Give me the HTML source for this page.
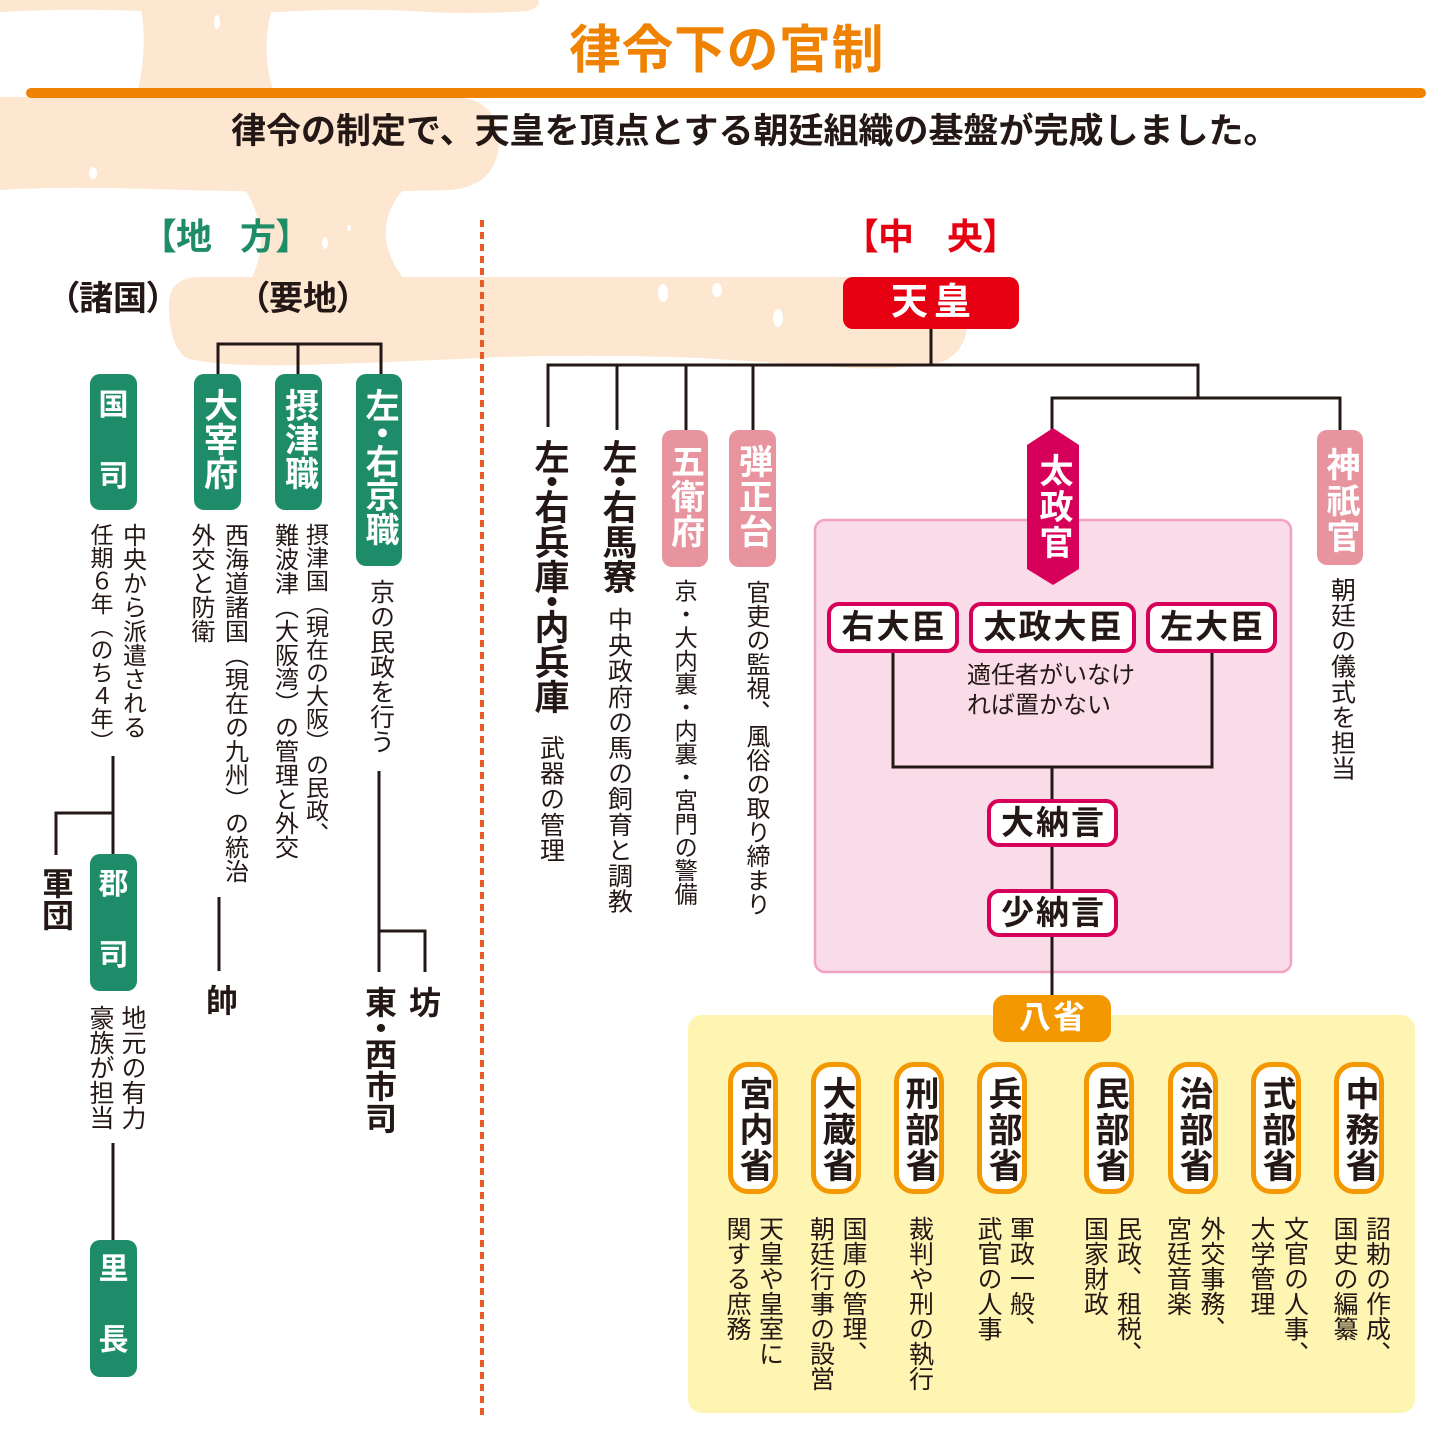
<!DOCTYPE html>
<html><head><meta charset="utf-8">
<style>
body{margin:0}
#c{position:relative;width:1453px;height:1454px;overflow:hidden;background:#fff;font-family:"Liberation Sans","Noto Sans CJK JP",sans-serif;color:#231815}
.v{position:absolute;writing-mode:vertical-rl;line-height:1;white-space:nowrap}
.h{position:absolute;line-height:1;white-space:nowrap}
.b{font-weight:700}
.w{color:#fff}
.box{position:absolute;box-sizing:border-box}
.g{background:#1e8c69;border-radius:10px}
.p{background:#e8949f;border-radius:10px}
.cr{background:#fff;border:4px solid #d6005a;border-radius:12px;text-align:center;font-weight:700;font-size:33px;letter-spacing:2px;line-height:42px;text-indent:2px}
.mo{background:#fff;border:5px solid #f39800;border-radius:20px;width:50px;height:132px;top:1062px}
.mt{position:absolute;writing-mode:vertical-rl;line-height:1;white-space:nowrap;font-weight:700;font-size:34px;letter-spacing:2px;top:1076px}
.md{position:absolute;writing-mode:vertical-rl;line-height:1;white-space:nowrap;font-size:25px;top:1216px}
.d6{margin:-6px 0}
.d10{margin:-10px 0}
</style></head><body><div id="c">
<svg width="1453" height="1454" style="position:absolute;left:0;top:0">
<g fill="#fde7d1">
<path d="M0,0 H538 Q542,6 528,11 Q470,15 410,11 Q340,8 280,12 Q200,15 140,11 Q70,8 0,12 Z"/>
<path d="M141,8 Q148,50 137,94 L274,94 Q260,50 272,8 Z"/>
<path d="M0,97 H455 Q498,99 499,142 Q497,186 450,190 Q300,194 150,189 Q60,186 0,190 Z"/>
<path d="M243,186 C262,215 268,250 250,280 L405,280 C380,250 378,215 407,186 Z"/>
<path d="M169,305 Q169,277 200,277 L945,277 Q968,280 968,318 Q967,352 942,362 Q900,370 850,368 Q780,363 700,358 Q600,354 500,357 Q400,362 300,365 Q220,367 186,358 Q169,345 169,305 Z"/>
</g>
<g fill="#fff">
<ellipse cx="663" cy="293" rx="5" ry="9"/>
<ellipse cx="717" cy="290" rx="5" ry="7"/>
<ellipse cx="778" cy="318" rx="5" ry="9"/>
<ellipse cx="325" cy="243" rx="3" ry="6"/>
<ellipse cx="93" cy="173" rx="4" ry="6"/>
<ellipse cx="217" cy="22" rx="3" ry="7"/>
<ellipse cx="349" cy="228" rx="2" ry="3"/>
</g>
<rect x="26" y="88" width="1400" height="10" rx="5" fill="#ef8200"/>
<line x1="482" y1="220" x2="482" y2="1418" stroke="#ea5a24" stroke-width="4" stroke-dasharray="7 5"/>
<rect x="815" y="520" width="476" height="452" rx="10" fill="#fadbe8" stroke="#f2a2c3" stroke-width="2.5"/>
<rect x="688" y="1015" width="727" height="398" rx="14" fill="#fff5b2"/>
<g stroke="#231815" stroke-width="3" fill="none">
<line x1="931" y1="329" x2="931" y2="365"/>
<line x1="546.5" y1="365" x2="1199.5" y2="365"/>
<line x1="548" y1="365" x2="548" y2="427"/>
<line x1="617" y1="365" x2="617" y2="430"/>
<line x1="686" y1="365" x2="686" y2="430"/>
<line x1="753" y1="365" x2="753" y2="430"/>
<line x1="1198" y1="365" x2="1198" y2="398"/>
<line x1="1050.5" y1="398" x2="1341.5" y2="398"/>
<line x1="1052" y1="398" x2="1052" y2="430"/>
<line x1="1340" y1="398" x2="1340" y2="430"/>
<line x1="216.5" y1="344" x2="382.5" y2="344"/>
<line x1="218" y1="344" x2="218" y2="374"/>
<line x1="298" y1="344" x2="298" y2="374"/>
<line x1="381" y1="344" x2="381" y2="374"/>
<line x1="113" y1="756" x2="113" y2="854"/>
<polyline points="113,813 56,813 56,855"/>
<line x1="219" y1="897" x2="219" y2="971"/>
<line x1="379" y1="771" x2="379" y2="972"/>
<polyline points="379,931 425,931 425,972"/>
<line x1="113" y1="1143" x2="113" y2="1240"/>
<polyline points="893,652 893,767 1212,767 1212,652"/>
<line x1="1052" y1="767" x2="1052" y2="799"/>
<line x1="1052" y1="847" x2="1052" y2="889"/>
<line x1="1052" y1="937" x2="1052" y2="995"/>
</g>
<polygon points="1053,428 1079,445 1079,569 1053,585 1027,569 1027,445" fill="#d6005a"/>
</svg>

<div class="h b" style="left:0;width:1453px;text-align:center;top:25px;font-size:52px;letter-spacing:0.5px;color:#ef8200">律令下の官制</div>
<div class="h b" style="left:231px;top:114px;font-size:35px">律令の制定で、天皇を頂点とする朝廷組織の基盤が完成しました。</div>

<div class="h b" style="left:158px;top:219px;font-size:36px;color:#1e8c69;font-feature-settings:'palt'">【地</div>
<div class="h b" style="left:240px;top:219px;font-size:36px;color:#1e8c69;font-feature-settings:'palt'">方】</div>
<div class="h b" style="left:860px;top:219px;font-size:36px;color:#e60012;font-feature-settings:'palt'">【中</div>
<div class="h b" style="left:947px;top:219px;font-size:36px;color:#e60012;font-feature-settings:'palt'">央】</div>
<div class="h b" style="left:62px;top:282px;font-size:34px;font-feature-settings:'palt'">（諸国）</div>
<div class="h b" style="left:252px;top:282px;font-size:34px;font-feature-settings:'palt'">（要地）</div>

<div class="box g" style="left:90px;top:374px;width:47px;height:136px"></div>
<div class="h b w" style="left:90px;width:47px;text-align:center;top:391px;font-size:30px">国</div>
<div class="h b w" style="left:90px;width:47px;text-align:center;top:462px;font-size:30px">司</div>
<div class="box g" style="left:194px;top:374px;width:47px;height:136px"></div>
<div class="v b w" style="left:200.5px;top:388px;font-size:34px">大宰府</div>
<div class="box g" style="left:275px;top:374px;width:47px;height:136px"></div>
<div class="v b w" style="left:281.5px;top:388px;font-size:34px">摂津職</div>
<div class="box g" style="left:356px;top:374px;width:46px;height:192px"></div>
<div class="v b w" style="left:362px;top:388px;font-size:34px">左<span class="d6">・</span>右京職</div>
<div class="box g" style="left:90px;top:854px;width:47px;height:137px"></div>
<div class="h b w" style="left:90px;width:47px;text-align:center;top:870px;font-size:30px">郡</div>
<div class="h b w" style="left:90px;width:47px;text-align:center;top:941px;font-size:30px">司</div>
<div class="box g" style="left:90px;top:1240px;width:47px;height:137px"></div>
<div class="h b w" style="left:90px;width:47px;text-align:center;top:1255px;font-size:30px">里</div>
<div class="h b w" style="left:90px;width:47px;text-align:center;top:1326px;font-size:30px">長</div>

<div class="v" style="left:119.5px;top:523px;font-size:24px">中央から派遣される</div>
<div class="v" style="left:88px;top:523px;font-size:23px">任期６年（のち４年）</div>
<div class="v" style="left:119px;top:1005px;font-size:25px">地元の有力</div>
<div class="v" style="left:87px;top:1005px;font-size:25px">豪族が担当</div>
<div class="v" style="left:221.5px;top:523px;font-size:24px">西海道諸国（現在の九州）の統治</div>
<div class="v" style="left:188px;top:523px;font-size:24px">外交と防衛</div>
<div class="v" style="left:303.5px;top:523px;font-size:23px">摂津国（現在の大阪）の民政、</div>
<div class="v" style="left:271.5px;top:523px;font-size:24px">難波津（大阪湾）の管理と外交</div>
<div class="v" style="left:367.5px;top:579px;font-size:25px">京の民政を行う</div>

<div class="v b" style="left:40px;top:867px;font-size:32px">軍団</div>
<div class="v b" style="left:204px;top:984px;font-size:32px">帥</div>
<div class="v b" style="left:363px;top:986px;font-size:32px">東<span class="d6">・</span>西市司</div>
<div class="v b" style="left:407px;top:986px;font-size:32px">坊</div>

<div class="h b w" style="left:843px;top:277px;width:176px;height:52px;background:#e60012;border-radius:10px"></div>
<div class="h b w" style="left:843px;width:176px;text-align:center;top:283px;font-size:37px;letter-spacing:6px;text-indent:6px">天皇</div>

<div class="v b" style="left:531.5px;top:439px;font-size:35px">左<span class="d10">・</span>右兵庫<span class="d10">・</span>内兵庫</div>
<div class="v" style="left:537.5px;top:735px;font-size:25px;letter-spacing:0.6px">武器の管理</div>
<div class="v b" style="left:599.5px;top:439px;font-size:35px">左<span class="d10">・</span>右馬寮</div>
<div class="v" style="left:605.5px;top:607px;font-size:25px;letter-spacing:0.6px">中央政府の馬の飼育と調教</div>

<div class="box p" style="left:662px;top:430px;width:46px;height:137px"></div>
<div class="v b w" style="left:667.5px;top:444px;font-size:34px;letter-spacing:1px">五衛府</div>
<div class="v" style="left:671.8px;top:579px;font-size:23.3px">京・大内裏・内裏・宮門の警備</div>
<div class="box p" style="left:729px;top:430px;width:47px;height:137px"></div>
<div class="v b w" style="left:735.5px;top:444px;font-size:34px;letter-spacing:1px">弾正台</div>
<div class="v" style="left:743px;top:580px;font-size:24px">官吏の監視、風俗の取り締まり</div>

<div class="box p" style="left:1317px;top:430px;width:46px;height:135px"></div>
<div class="v b w" style="left:1323px;top:447px;font-size:34px;letter-spacing:2px">神祇官</div>
<div class="v" style="left:1328.5px;top:577px;font-size:25px;letter-spacing:0.5px">朝廷の儀式を担当</div>

<div class="v b w" style="left:1036px;top:453px;font-size:34px;letter-spacing:2px">太政官</div>

<div class="box cr" style="left:827px;top:602px;width:132px;height:51px">右大臣</div>
<div class="box cr" style="left:969px;top:602px;width:167px;height:51px">太政大臣</div>
<div class="box cr" style="left:1146px;top:602px;width:131px;height:51px">左大臣</div>
<div class="h" style="left:967px;top:664px;font-size:24px">適任者がいなけ</div>
<div class="h" style="left:967px;top:694px;font-size:24px">れば置かない</div>
<div class="box cr" style="left:987px;top:799px;width:131px;height:48px;line-height:40px">大納言</div>
<div class="box cr" style="left:987px;top:889px;width:131px;height:48px;line-height:40px">少納言</div>

<div class="box" style="left:993px;top:995px;width:118px;height:47px;background:#f39800;border-radius:12px"></div>
<div class="h b w" style="left:993px;width:118px;text-align:center;top:1001px;font-size:32px;letter-spacing:2px;text-indent:2px">八省</div>

<div class="box mo" style="left:728px"></div><div class="mt" style="left:736px">宮内省</div>
<div class="box mo" style="left:811px"></div><div class="mt" style="left:819px">大蔵省</div>
<div class="box mo" style="left:894px"></div><div class="mt" style="left:902px">刑部省</div>
<div class="box mo" style="left:977px"></div><div class="mt" style="left:985px">兵部省</div>
<div class="box mo" style="left:1084px"></div><div class="mt" style="left:1092px">民部省</div>
<div class="box mo" style="left:1168px"></div><div class="mt" style="left:1176px">治部省</div>
<div class="box mo" style="left:1251px"></div><div class="mt" style="left:1259px">式部省</div>
<div class="box mo" style="left:1334px"></div><div class="mt" style="left:1342px">中務省</div>

<div class="md" style="left:756.5px">天皇や皇室に</div>
<div class="md" style="left:724px">関する庶務</div>
<div class="md" style="left:840px">国庫の管理、</div>
<div class="md" style="left:807.5px">朝廷行事の設営</div>
<div class="md" style="left:906.5px">裁判や刑の執行</div>
<div class="md" style="left:1007.5px">軍政一般、</div>
<div class="md" style="left:975px">武官の人事</div>
<div class="md" style="left:1114.5px">民政、租税、</div>
<div class="md" style="left:1081.5px">国家財政</div>
<div class="md" style="left:1198px">外交事務、</div>
<div class="md" style="left:1164.5px">宮廷音楽</div>
<div class="md" style="left:1281.5px">文官の人事、</div>
<div class="md" style="left:1248px">大学管理</div>
<div class="md" style="left:1363.5px">詔勅の作成、</div>
<div class="md" style="left:1331px">国史の編纂</div>
</div></body></html>
